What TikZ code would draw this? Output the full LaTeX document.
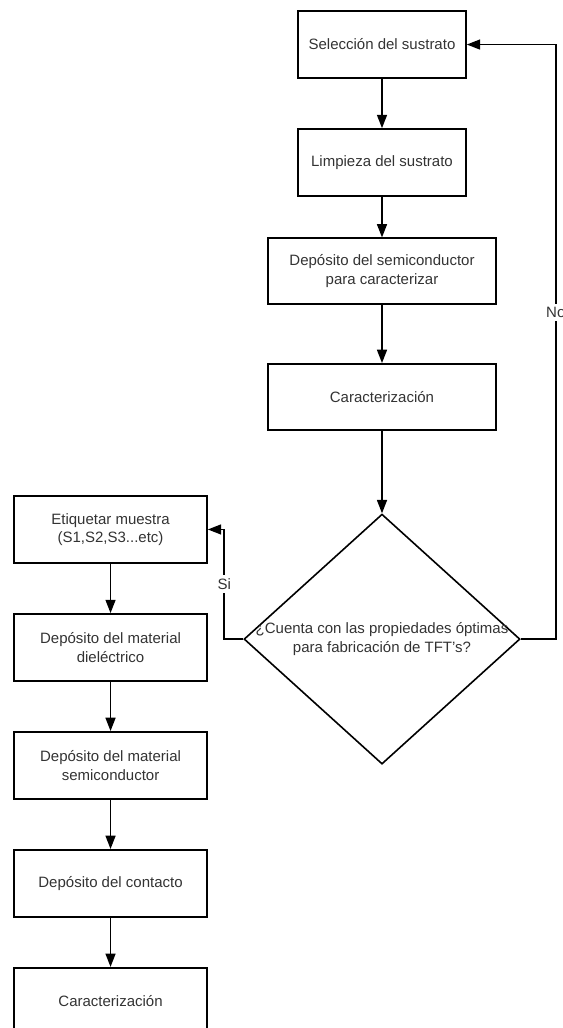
\documentclass[tikz,border=0pt]{standalone}
\usepackage{fontspec}
\setmainfont{Liberation Sans}
\usetikzlibrary{positioning,shapes.geometric,arrows.meta}
\definecolor{txtgris}{HTML}{333333}
\begin{document}
\begin{tikzpicture}[font=\fontsize{11.25}{14}\selectfont,text=txtgris,
		caja/.style={rectangle,draw,line width=1.2pt,align=center,inner sep=0pt},
		angosta/.style={caja,minimum width=126pt,minimum height=50.25pt},
		ancha/.style={caja,minimum width=171pt,minimum height=49.5pt},
		izq/.style={caja,minimum width=144.75pt,minimum height=50.25pt},
		flecha/.style={line width=1.1pt,-{Triangle[length=10pt,width=7.5pt]}},
		rotulo/.style={fill=white,inner sep=2.5pt}]
		\useasboundingbox (0,0) rectangle (421.5pt,-771pt);
		% columna derecha
		\node[angosta](sel) at (286.5pt,-33.4pt){Selección del sustrato};
		\node[angosta,below=37pt of sel](limp){Limpieza del sustrato};
		\node[ancha,below=30.5pt of limp](dep){Depósito del semiconductor\\para caracterizar};
		\node[ancha,below=43.5pt of dep](car){Caracterización};
		\node[diamond,draw,line width=1.2pt,minimum width=207pt,minimum height=187.5pt,
			inner sep=0pt,below=62pt of car](dec){};
		\node[align=center](dectxt) at (dec){¿Cuenta con las propiedades óptimas\\para fabricación de TFT's?};
		% columna izquierda
		\node[izq](etq) at (82.9pt,-397.1pt){Etiquetar muestra\\(S1,S2,S3...etc)};
		\node[izq,below=37pt of etq](diel){Depósito del material\\dieléctrico};
		\node[izq,below=37pt of diel](semi){Depósito del material\\semiconductor};
		\node[izq,below=37pt of semi](cont){Depósito del contacto};
		\node[izq,below=37pt of cont](car2){Caracterización};
		% flechas
		\draw[flecha](sel)--(limp);
		\draw[flecha](limp)--(dep);
		\draw[flecha](dep)--(car);
		\draw[flecha](car)--(dec);
		\draw[flecha](etq)--(diel);
		\draw[flecha](diel)--(semi);
		\draw[flecha](semi)--(cont);
		\draw[flecha](cont)--(car2);
		\draw[flecha](dec.west)--++(-14.25pt,0)|-node[pos=0.25,rotulo](si){Si}(etq.east);
		\draw[flecha](dec.east)--++(26.25pt,0)|-node[pos=0.275,rotulo](no){No}(sel.east);
	\end{tikzpicture}
\end{document}
